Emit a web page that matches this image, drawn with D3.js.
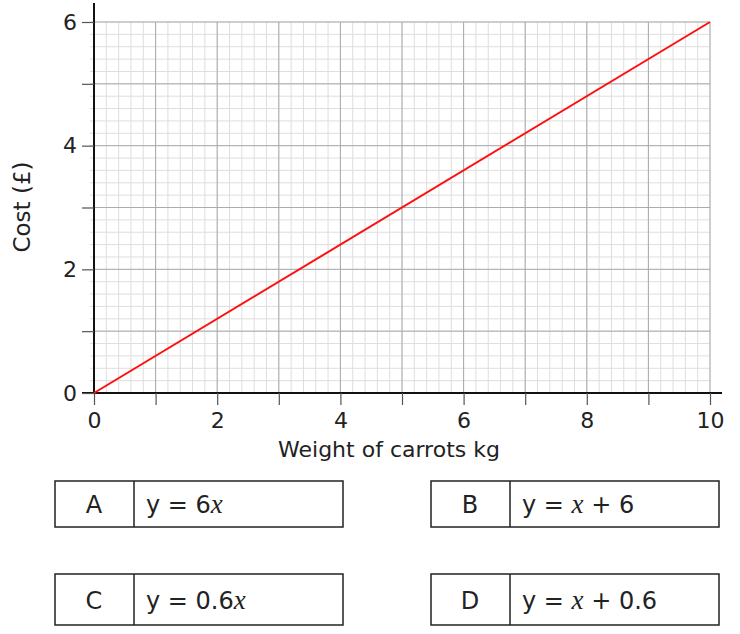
<!DOCTYPE html>
<html>
<head>
<meta charset="utf-8">
<script src="https://cdn.jsdelivr.net/npm/d3@7"></script>
<style>
  body { margin: 0; background: #fff; }
  text { font-family: "DejaVu Sans", sans-serif; fill: #222; }
</style>
</head>
<body>
<div id="chart"></div>
<script>
(function () {
    // data
    var weights = [0, 10];           // kg
    var costs = [0, 6];              // pounds
    var xTickLabels = [0, 2, 4, 6, 8, 10];
    var yTickLabels = [0, 2, 4, 6];
    var choiceLetters = ['A', 'B', 'C', 'D'];
    var choiceText = [
        ['y = 6', 'x', ''],
        ['y = ', 'x', ' + 6'],
        ['y = 0.6', 'x', ''],
        ['y = ', 'x', ' + 0.6']
    ];

    var w = 740, h = 634;
    var svg = d3.select('#chart')
        .append('svg')
            .attr('width', w)
            .attr('height', h);

    var x = d3.scaleLinear().domain([0, 10]).range([94, 710]);
    var y = d3.scaleLinear().domain([0, 6]).range([393, 22]);

    var minorX = d3.range(0, 10.01, 0.2);
    var minorY = d3.range(0, 6.01, 0.2);
    var majorX = d3.range(0, 11, 1);
    var majorY = d3.range(0, 7, 1);

    var grid = svg.append('g');

    // minor grid
    grid.selectAll('.mx')
        .data(minorX)
        .enter()
        .append('line')
            .attr('x1', function (d) { return x(d); })
            .attr('x2', function (d) { return x(d); })
            .attr('y1', y(0))
            .attr('y2', y(6))
            .style('stroke', '#dedede')
            .style('stroke-width', 1);
    grid.selectAll('.my')
        .data(minorY)
        .enter()
        .append('line')
            .attr('x1', x(0) - 4)
            .attr('x2', x(10))
            .attr('y1', function (d) { return y(d); })
            .attr('y2', function (d) { return y(d); })
            .style('stroke', '#dedede')
            .style('stroke-width', 1);

    // major grid
    grid.selectAll('.Mx')
        .data(majorX)
        .enter()
        .append('line')
            .attr('x1', function (d) { return x(d); })
            .attr('x2', function (d) { return x(d); })
            .attr('y1', y(0))
            .attr('y2', y(6))
            .style('stroke', '#ababab')
            .style('stroke-width', 1);
    grid.selectAll('.My')
        .data(majorY)
        .enter()
        .append('line')
            .attr('x1', x(0))
            .attr('x2', x(10))
            .attr('y1', function (d) { return y(d); })
            .attr('y2', function (d) { return y(d); })
            .style('stroke', '#ababab')
            .style('stroke-width', 1);

    // axes
    var xAxis = d3.axisBottom(x)
        .tickValues(majorX)
        .tickSize(12)
        .tickPadding(7)
        .tickFormat(function (d) { return xTickLabels.indexOf(d) >= 0 ? d : ''; });
    var gx = svg.append('g')
        .attr('transform', 'translate(0,' + y(0) + ')')
        .call(xAxis);
    gx.select('.domain').attr('d', 'M82,0H722').style('stroke', '#111').style('stroke-width', 2);
    gx.selectAll('.tick line').style('stroke', '#555').style('stroke-width', 1.2);
    gx.selectAll('.tick text')
        .style('font-family', '"DejaVu Sans", sans-serif')
        .style('font-size', '22px')
        .style('fill', '#222');

    var yAxis = d3.axisLeft(y)
        .tickValues(majorY)
        .tickSize(12)
        .tickPadding(5)
        .tickFormat(function (d) { return yTickLabels.indexOf(d) >= 0 ? d : ''; });
    var gy = svg.append('g')
        .attr('transform', 'translate(' + x(0) + ',0)')
        .call(yAxis);
    gy.select('.domain').attr('d', 'M0,3V' + y(0)).style('stroke', '#111').style('stroke-width', 2);
    gy.selectAll('.tick line').style('stroke', '#555').style('stroke-width', 1.2);
    gy.selectAll('.tick text')
        .style('font-family', '"DejaVu Sans", sans-serif')
        .style('font-size', '22px')
        .style('fill', '#222');

    // axis titles
    svg.append('text')
        .text('Weight of carrots kg')
        .attr('x', 389)
        .attr('y', 457)
        .attr('text-anchor', 'middle')
        .style('font-size', '22px');
    svg.append('text')
        .text('Cost (£)')
        .attr('transform', 'translate(30,207) rotate(-90)')
        .attr('text-anchor', 'middle')
        .style('font-size', '23px');

    // the line
    var line = d3.line()
        .x(function (d, i) { return x(weights[i]); })
        .y(function (d, i) { return y(costs[i]); });
    svg.append('path')
        .datum(weights)
        .attr('d', line)
        .style('fill', 'none')
        .style('stroke', '#ff1010')
        .style('stroke-width', 2);

    // answer boxes
    var boxX = [55, 431, 55, 431];
    var boxY = [481, 481, 574, 574];
    var boxes = svg.selectAll('.box')
        .data(choiceLetters)
        .enter()
        .append('g')
            .attr('transform', function (d, i) { return 'translate(' + boxX[i] + ',' + boxY[i] + ')'; });
    boxes.append('rect')
        .attr('width', 288)
        .attr('height', function (d, i) { return i < 2 ? 46 : 51; })
        .style('fill', 'none')
        .style('stroke', '#222')
        .style('stroke-width', 1.5);
    boxes.append('line')
        .attr('x1', 79)
        .attr('x2', 79)
        .attr('y1', 0)
        .attr('y2', function (d, i) { return i < 2 ? 46 : 51; })
        .style('stroke', '#222')
        .style('stroke-width', 1.5);
    boxes.append('text')
        .text(function (d) { return d; })
        .attr('x', 39)
        .attr('y', function (d, i) { return i < 2 ? 32 : 35; })
        .attr('text-anchor', 'middle')
        .style('font-size', '24px');
    var eq = boxes.append('text')
        .attr('x', 91)
        .attr('y', function (d, i) { return i < 2 ? 32 : 35; })
        .style('font-size', '24px');
    eq.append('tspan').text(function (d, i) { return choiceText[i][0]; });
    eq.append('tspan')
        .text(function (d, i) { return choiceText[i][1]; })
        .style('font-family', '"Liberation Serif", serif')
        .style('font-style', 'italic')
        .style('font-size', '27px');
    eq.append('tspan')
        .attr('xml:space', 'preserve')
        .text(function (d, i) { return choiceText[i][2]; });
})();
</script>
</body>
</html>
